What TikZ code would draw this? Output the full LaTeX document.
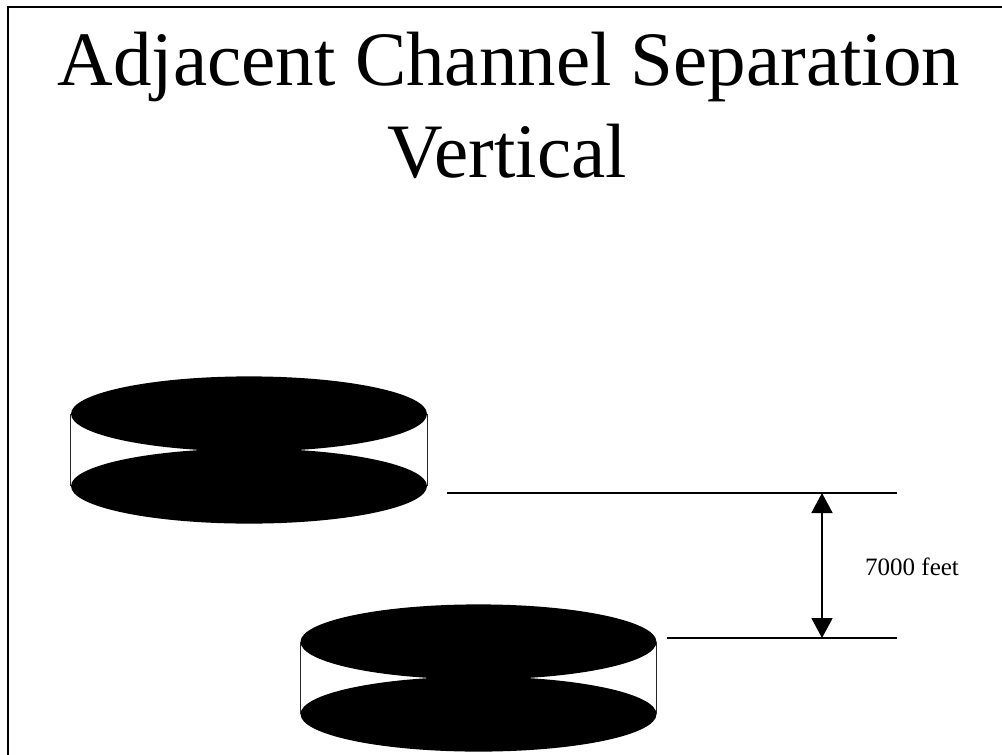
\documentclass[tikz,border=0pt]{standalone}
\usepackage{fontspec}
\setmainfont{Liberation Serif}
\usetikzlibrary{shapes.geometric,arrows.meta}
\tikzset{
  disc/.style={ellipse, fill=black, draw=none, inner sep=0pt,
    minimum width=356pt, minimum height=75pt},
  side/.style={line width=1.3pt, black!85},
  refline/.style={line width=1.8pt, black},
  dimarrow/.style={line width=1.8pt, black,
    {Triangle[width=21pt,length=20pt]}-{Triangle[width=21pt,length=20pt]}},
  frame/.style={line width=2pt, black},
}
\begin{document}
\begin{tikzpicture}[x=1pt,y=-1pt]
\useasboundingbox (0,0) rectangle (1002,755);
\fill[white] (0,0) rectangle (1002,755);
% frame
\draw[frame] (8,755) -- (8,7) -- (1002,7);
% title
\node[anchor=base, font=\fontsize{77}{80}\selectfont, inner sep=0pt] (title1) at (509,85) {Adjacent Channel Separation};
\node[anchor=base, font=\fontsize{77}{80}\selectfont, inner sep=0pt] (title2) at (507,177) {Vertical};
% upper cylinder
\node[disc] (ut) at (249,413.9) {};
\node[disc] (ub) at (249,486.1) {};
\draw[side] (ut.west) -- (ub.west);
\draw[side] (ut.east) -- (ub.east);
% lower cylinder
\node[disc] (lt) at (478.5,641.9) {};
\node[disc] (lb) at (478.5,714.1) {};
\draw[side] (lt.west) -- (lb.west);
\draw[side] (lt.east) -- (lb.east);
% reference lines
\coordinate (r1s) at (447,493);
\coordinate (r1e) at (897,493);
\coordinate (r2s) at (667,638);
\coordinate (r2e) at (897,638);
\coordinate (a1) at (822,493);
\coordinate (a2) at (822,638);
\draw[refline] (r1s) -- (r1e);
\draw[refline] (r2s) -- (r2e);
\draw[dimarrow] (a1) -- (a2);
\node[anchor=base west, font=\fontsize{25}{26}\selectfont, inner sep=0pt] (lbl) at (865,575) {7000 feet};
\end{tikzpicture}
\end{document}
